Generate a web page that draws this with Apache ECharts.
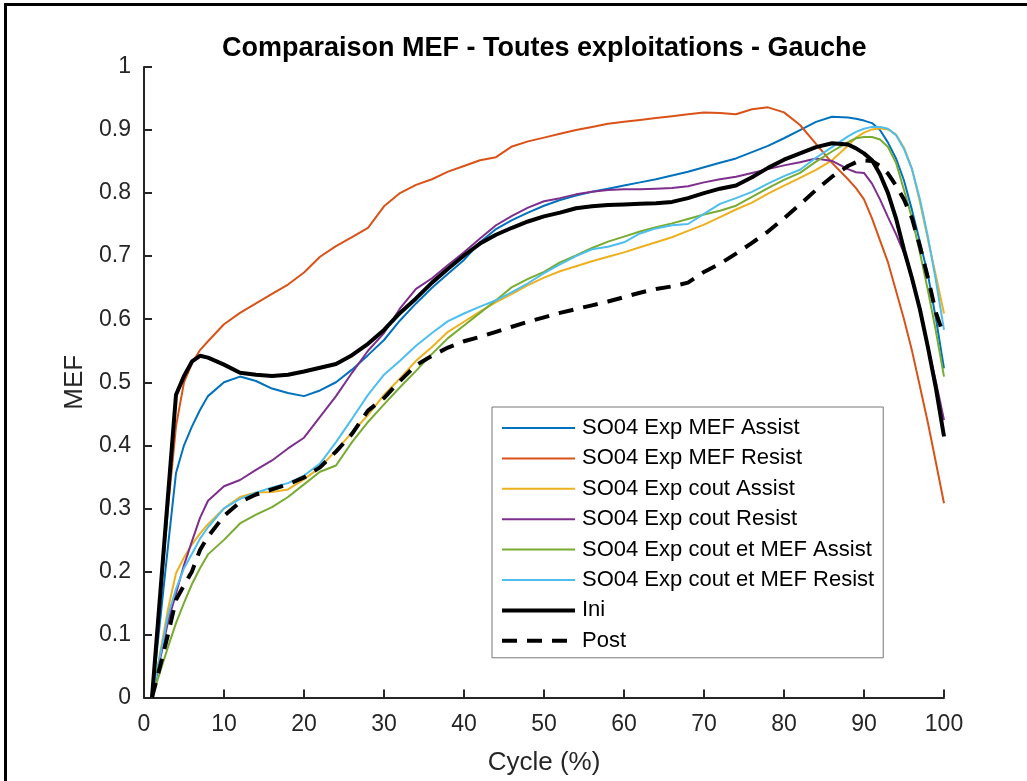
<!DOCTYPE html>
<html>
<head>
<meta charset="utf-8">
<script src="https://cdn.jsdelivr.net/npm/echarts@6/dist/echarts.min.js"></script>
<style>
html,body{margin:0;padding:0;background:#fff;}
#c{width:1027px;height:781px;}
</style>
</head>
<body>
<div id="c"></div>
<script>
var cycle = [1,2,3,4,5,6,7,8,10,12,14,16,18,20,22,24,26,28,30,32,34,36,38,40,42,44,46,48,50,52,54,56,58,60,62,64,66,68,70,72,74,76,78,80,82,84,86,88,89,90,91,92,93,94,95,96,97,98,99,100];

var mefAssist = [0,0.12,0.24,0.356,0.4,0.43,0.456,0.478,0.5,0.509,0.502,0.49,0.483,0.478,0.487,0.5,0.52,0.543,0.567,0.598,0.625,0.65,0.672,0.694,0.722,0.743,0.757,0.769,0.78,0.789,0.796,0.802,0.807,0.812,0.817,0.822,0.828,0.834,0.841,0.848,0.855,0.865,0.875,0.887,0.9,0.913,0.921,0.92,0.918,0.915,0.911,0.9,0.88,0.855,0.82,0.773,0.722,0.67,0.6,0.522];

var mefResist = [0,0.15,0.3,0.43,0.5,0.53,0.551,0.565,0.592,0.61,0.625,0.64,0.655,0.674,0.699,0.716,0.73,0.745,0.779,0.8,0.813,0.822,0.834,0.843,0.852,0.857,0.874,0.882,0.888,0.894,0.9,0.905,0.91,0.913,0.916,0.919,0.922,0.925,0.928,0.927,0.925,0.933,0.936,0.928,0.908,0.878,0.848,0.822,0.808,0.79,0.76,0.725,0.69,0.645,0.6,0.55,0.493,0.435,0.372,0.308];

var coutAssist = [0,0.07,0.14,0.197,0.222,0.243,0.26,0.275,0.3,0.318,0.325,0.326,0.33,0.346,0.365,0.392,0.42,0.448,0.48,0.506,0.534,0.556,0.58,0.596,0.612,0.627,0.64,0.654,0.666,0.676,0.684,0.692,0.699,0.706,0.714,0.722,0.73,0.74,0.75,0.762,0.774,0.785,0.799,0.812,0.824,0.837,0.852,0.875,0.888,0.896,0.901,0.903,0.901,0.893,0.872,0.838,0.785,0.726,0.668,0.609];

var coutResist = [0,0.06,0.12,0.165,0.21,0.248,0.285,0.312,0.335,0.345,0.361,0.376,0.395,0.412,0.445,0.478,0.515,0.55,0.578,0.617,0.648,0.665,0.686,0.706,0.728,0.749,0.764,0.777,0.787,0.792,0.798,0.802,0.805,0.806,0.806,0.807,0.808,0.811,0.817,0.822,0.826,0.832,0.838,0.844,0.849,0.855,0.851,0.838,0.833,0.832,0.815,0.79,0.762,0.735,0.705,0.665,0.615,0.555,0.5,0.44];

var coutMefAssist = [0,0.04,0.08,0.118,0.15,0.18,0.205,0.227,0.25,0.276,0.29,0.302,0.318,0.338,0.358,0.368,0.405,0.437,0.465,0.492,0.518,0.545,0.57,0.59,0.61,0.63,0.651,0.664,0.675,0.69,0.701,0.713,0.723,0.731,0.739,0.746,0.752,0.759,0.766,0.772,0.78,0.794,0.808,0.821,0.832,0.85,0.866,0.881,0.887,0.889,0.889,0.885,0.873,0.848,0.805,0.76,0.705,0.645,0.58,0.509];

var coutMefResist = [0,0.065,0.13,0.172,0.205,0.228,0.252,0.27,0.3,0.315,0.325,0.333,0.34,0.352,0.371,0.405,0.442,0.48,0.512,0.534,0.558,0.578,0.597,0.609,0.62,0.63,0.643,0.657,0.673,0.687,0.7,0.711,0.715,0.722,0.736,0.744,0.749,0.751,0.767,0.783,0.792,0.802,0.815,0.827,0.837,0.856,0.873,0.89,0.897,0.902,0.905,0.905,0.902,0.892,0.87,0.838,0.79,0.73,0.66,0.583];

var ini = [0,0.16,0.32,0.48,0.51,0.533,0.542,0.539,0.528,0.515,0.512,0.51,0.512,0.517,0.523,0.529,0.543,0.561,0.583,0.61,0.633,0.658,0.68,0.701,0.72,0.734,0.745,0.755,0.763,0.769,0.776,0.779,0.781,0.782,0.783,0.784,0.786,0.792,0.8,0.807,0.812,0.825,0.84,0.853,0.863,0.873,0.879,0.877,0.871,0.863,0.852,0.83,0.8,0.76,0.71,0.665,0.615,0.555,0.49,0.414];

var post = [0,0.049,0.1,0.155,0.178,0.2,0.234,0.255,0.288,0.31,0.322,0.33,0.338,0.349,0.365,0.39,0.418,0.455,0.475,0.502,0.527,0.542,0.555,0.565,0.572,0.58,0.588,0.596,0.603,0.61,0.616,0.622,0.628,0.635,0.642,0.648,0.652,0.658,0.675,0.688,0.704,0.721,0.739,0.76,0.782,0.805,0.826,0.843,0.849,0.852,0.851,0.843,0.831,0.812,0.79,0.76,0.715,0.665,0.61,0.573];

var seriesNames = ['SO04 Exp MEF Assist','SO04 Exp MEF Resist','SO04 Exp cout Assist','SO04 Exp cout Resist','SO04 Exp cout et MEF Assist','SO04 Exp cout et MEF Resist','Ini','Post'];
var seriesValues = [mefAssist, mefResist, coutAssist, coutResist, coutMefAssist, coutMefResist, ini, post];
var seriesColors = ['#0072BD','#D95319','#EDB120','#7E2F8E','#77AC30','#4DBEEE','#000000','#000000'];

var xTicks = {min:0, max:100, interval:10};
var yTicks = {min:0, max:1, interval:0.1};

function pairs(vals){ return cycle.map(function(x,i){ return [x, vals[i]]; }); }

var series = seriesNames.map(function(n, i){
  var black = i >= 6;
  return {
    name: n,
    type: 'line',
    data: pairs(seriesValues[i]),
    symbol: 'none',
    smooth: false,
    animation: false,
    z: black ? 3 : 2,
    lineStyle: {
      color: seriesColors[i],
      width: black ? 4 : 2,
      type: i === 7 ? [15, 10] : 'solid'
    },
    itemStyle: {color: seriesColors[i]}
  };
});

var chart = echarts.init(document.getElementById('c'), null, {renderer:'canvas'});
var font = 'Liberation Sans, Arial, Helvetica, sans-serif';
chart.setOption({
  backgroundColor: '#fff',
  animation: false,
  textStyle: {fontFamily: font},
  title: {
    text: 'Comparaison MEF - Toutes exploitations - Gauche',
    left: 217,
    top: 30,
    textStyle: {fontFamily: font, fontSize: 27, fontWeight: 'bold', color: '#000'}
  },
  grid: {left: 144, right: 83, top: 67, bottom: 83.5, containLabel: false},
  legend: {
    orient: 'vertical',
    left: 492,
    top: 407,
    itemWidth: 73,
    itemHeight: 14,
    itemGap: 8.4,
    padding: [10, 9, 6, 8],
    borderColor: '#777',
    borderWidth: 1,
    backgroundColor: '#fff',
    itemStyle: {opacity: 0},
    lineStyle: {width: 'inherit', type: 'inherit'},
    textStyle: {fontFamily: font, fontSize: 22, color: '#000', lineHeight: 22, padding: [0,0,0,2]},
    data: seriesNames
  },
  xAxis: {
    type: 'value',
    min: xTicks.min, max: xTicks.max, interval: xTicks.interval,
    name: 'Cycle (%)',
    nameLocation: 'middle',
    nameGap: 52,
    nameTextStyle: {fontFamily: font, fontSize: 26, color: '#262626'},
    axisLine: {show: true, onZero: false, lineStyle: {color: '#262626', width: 2}},
    axisTick: {show: true, inside: true, length: 8, lineStyle: {color: '#262626', width: 2}},
    axisLabel: {fontFamily: font, fontSize: 23, color: '#262626', margin: 16},
    splitLine: {show: false}
  },
  yAxis: {
    type: 'value',
    min: yTicks.min, max: yTicks.max, interval: yTicks.interval,
    name: 'MEF',
    nameLocation: 'middle',
    nameGap: 40,
    nameTextStyle: {fontFamily: font, fontSize: 26, color: '#262626'},
    axisLine: {show: true, onZero: false, lineStyle: {color: '#262626', width: 2}},
    axisTick: {show: true, inside: true, length: 8, lineStyle: {color: '#262626', width: 2}},
    axisLabel: {fontFamily: font, fontSize: 23, color: '#262626', margin: 13},
    splitLine: {show: false}
  },
  graphic: [{
    type: 'rect',
    left: 3, top: 2,
    shape: {width: 1100, height: 900},
    style: {fill: 'none', stroke: '#000', lineWidth: 3},
    silent: true,
    z: 100
  }],
  series: series
});
</script>
</body>
</html>
